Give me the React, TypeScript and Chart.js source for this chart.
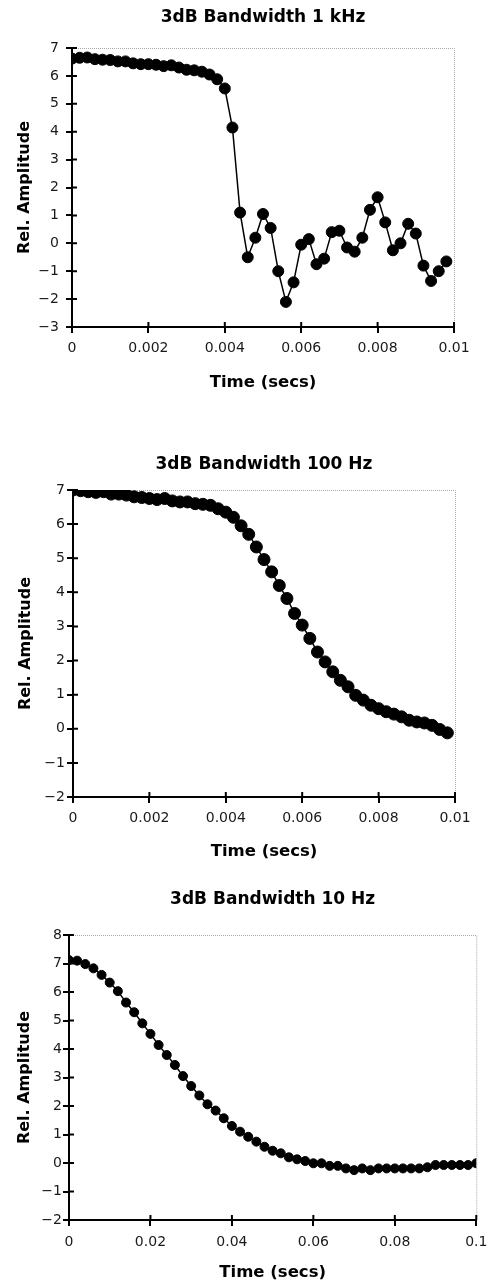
import React, { useEffect, useRef } from 'react';
import { Chart, registerables } from 'chart.js';

Chart.register(...registerables);

const FONT = "'DejaVu Sans', Verdana, sans-serif";

// ---------- Data ----------
const time1 = [0, 0.0002, 0.0004, 0.0006, 0.0008, 0.001, 0.0012, 0.0014, 0.0016, 0.0018,
  0.002, 0.0022, 0.0024, 0.0026, 0.0028, 0.003, 0.0032, 0.0034, 0.0036, 0.0038,
  0.004, 0.0042, 0.0044, 0.0046, 0.0048, 0.005, 0.0052, 0.0054, 0.0056, 0.0058,
  0.006, 0.0062, 0.0064, 0.0066, 0.0068, 0.007, 0.0072, 0.0074, 0.0076, 0.0078,
  0.008, 0.0082, 0.0084, 0.0086, 0.0088, 0.009, 0.0092, 0.0094, 0.0096, 0.0098];
const amp1 = [6.62, 6.65, 6.66, 6.6, 6.58, 6.57, 6.52, 6.52, 6.45, 6.42,
  6.42, 6.4, 6.35, 6.38, 6.3, 6.22, 6.2, 6.15, 6.05, 5.88,
  5.55, 4.15, 1.1, -0.5, 0.2, 1.05, 0.55, -1.0, -2.1, -1.4,
  -0.05, 0.15, -0.75, -0.55, 0.4, 0.45, -0.15, -0.3, 0.2, 1.2,
  1.65, 0.75, -0.25, 0.0, 0.7, 0.35, -0.8, -1.35, -1.0, -0.65];

const time2 = [0, 0.0002, 0.0004, 0.0006, 0.0008, 0.001, 0.0012, 0.0014, 0.0016, 0.0018,
  0.002, 0.0022, 0.0024, 0.0026, 0.0028, 0.003, 0.0032, 0.0034, 0.0036, 0.0038,
  0.004, 0.0042, 0.0044, 0.0046, 0.0048, 0.005, 0.0052, 0.0054, 0.0056, 0.0058,
  0.006, 0.0062, 0.0064, 0.0066, 0.0068, 0.007, 0.0072, 0.0074, 0.0076, 0.0078,
  0.008, 0.0082, 0.0084, 0.0086, 0.0088, 0.009, 0.0092, 0.0094, 0.0096, 0.0098];
const amp2 = [7.0, 6.98, 6.95, 6.93, 6.95, 6.88, 6.88, 6.85, 6.8, 6.78,
  6.75, 6.72, 6.75, 6.68, 6.65, 6.65, 6.6, 6.58, 6.55, 6.45,
  6.35, 6.2, 5.95, 5.7, 5.33, 4.96, 4.6, 4.2, 3.82, 3.38,
  3.04, 2.65, 2.25, 1.96, 1.67, 1.42, 1.23, 0.98, 0.84, 0.69,
  0.59, 0.5, 0.43, 0.35, 0.25, 0.2, 0.17, 0.1, -0.02, -0.12];

const time3 = [0, 0.002, 0.004, 0.006, 0.008, 0.01, 0.012, 0.014, 0.016, 0.018,
  0.02, 0.022, 0.024, 0.026, 0.028, 0.03, 0.032, 0.034, 0.036, 0.038,
  0.04, 0.042, 0.044, 0.046, 0.048, 0.05, 0.052, 0.054, 0.056, 0.058,
  0.06, 0.062, 0.064, 0.066, 0.068, 0.07, 0.072, 0.074, 0.076, 0.078,
  0.08, 0.082, 0.084, 0.086, 0.088, 0.09, 0.092, 0.094, 0.096, 0.098, 0.1];
const amp3 = [7.12, 7.1, 6.98, 6.83, 6.6, 6.33, 6.03, 5.63, 5.29, 4.9,
  4.53, 4.14, 3.79, 3.44, 3.05, 2.7, 2.37, 2.06, 1.84, 1.57,
  1.3, 1.1, 0.92, 0.75, 0.57, 0.43, 0.34, 0.2, 0.13, 0.07,
  -0.01, -0.01, -0.1, -0.1, -0.19, -0.25, -0.19, -0.25, -0.19, -0.19,
  -0.19, -0.19, -0.19, -0.19, -0.15, -0.07, -0.07, -0.07, -0.07, -0.07, -0.01];

const xTickLabelsMs = ['0', '0.002', '0.004', '0.006', '0.008', '0.01'];
const xTickLabels10 = ['0', '0.02', '0.04', '0.06', '0.08', '0.1'];

const titles = ['3dB Bandwidth 1 kHz', '3dB Bandwidth 100 Hz', '3dB Bandwidth 10 Hz'];
const xTitle = 'Time (secs)';
const yTitle = 'Rel. Amplitude';

// ---------- Plugin: dotted frame + inner tick marks ----------
const framePlugin = {
  id: 'framePlugin',
  beforeDatasetsDraw(chart: any) {
    const { ctx, chartArea: a, scales } = chart;
    ctx.save();
    ctx.strokeStyle = '#a8a8a8';
    ctx.lineWidth = 1;
    ctx.setLineDash([1, 1]);
    ctx.beginPath();
    ctx.moveTo(a.left, a.top + 0.5);
    ctx.lineTo(a.right + 0.5, a.top + 0.5);
    ctx.lineTo(a.right + 0.5, a.bottom);
    ctx.stroke();
    ctx.setLineDash([]);
    ctx.strokeStyle = '#000';
    ctx.lineWidth = 2;
    ctx.beginPath();
    for (const t of scales.x.ticks) {
      const px = scales.x.getPixelForValue(t.value);
      ctx.moveTo(px, a.bottom);
      ctx.lineTo(px, a.bottom - 5);
    }
    for (const t of scales.y.ticks) {
      const py = scales.y.getPixelForValue(t.value);
      ctx.moveTo(a.left, py);
      ctx.lineTo(a.left + 5, py);
    }
    ctx.stroke();
    ctx.restore();
  },
};

type Spec = {
  top: number; height: number; title: string;
  times: number[]; values: number[];
  xMax: number; xStep: number; xLabels: string[];
  yMin: number; yMax: number;
  radius: number;
  padLeft: number; padRight: number;
  titlePadTop: number; titlePadBottom: number;
  xH: number; xTitlePadBottom: number; xTickPad: number;
  yW: number; yTickPad: number;
};

const specs: Spec[] = [
  {
    top: 0, height: 400, title: titles[0], times: time1, values: amp1,
    xMax: 0.01, xStep: 0.002, xLabels: xTickLabelsMs, yMin: -3, yMax: 7, radius: 5.5,
    padLeft: 11, padRight: 41, titlePadTop: 7.8, titlePadBottom: 19.8,
    xH: 73, xTitlePadBottom: 7.1, xTickPad: 6.6, yW: 61, yTickPad: 7,
  },
  {
    top: 420, height: 445, title: titles[1], times: time2, values: amp2,
    xMax: 0.01, xStep: 0.002, xLabels: xTickLabelsMs, yMin: -2, yMax: 7, radius: 6,
    padLeft: 12, padRight: 40, titlePadTop: 34.8, titlePadBottom: 14.8,
    xH: 68, xTitlePadBottom: 3.1, xTickPad: 6.9, yW: 61, yTickPad: 2,
  },
  {
    top: 860, height: 425, title: titles[2], times: time3, values: amp3,
    xMax: 0.1, xStep: 0.02, xLabels: xTickLabels10, yMin: -2, yMax: 8, radius: 4.5,
    padLeft: 11, padRight: 17, titlePadTop: 29.8, titlePadBottom: 24.8,
    xH: 65, xTitlePadBottom: 2.1, xTickPad: 7.6, yW: 58, yTickPad: 1,
  },
];

function makeConfig(s: Spec): any {
  return {
    type: 'line',
    data: {
      datasets: [{
        data: s.times.map((t, i) => ({ x: t, y: s.values[i] })),
        borderColor: '#000',
        borderWidth: 1.5,
        pointRadius: s.radius,
        pointBackgroundColor: '#000',
        pointBorderColor: '#000',
        pointBorderWidth: 1,
        tension: 0,
        fill: false,
      }],
    },
    options: {
      animation: false,
      responsive: false,
      maintainAspectRatio: false,
      layout: { padding: { left: s.padLeft, right: s.padRight, top: 0, bottom: 0 } },
      plugins: {
        legend: { display: false },
        tooltip: { enabled: false },
        title: {
          display: true,
          text: s.title,
          fullSize: false,
          color: '#000',
          font: { family: FONT, size: 17, weight: 'bold', lineHeight: 1.2 },
          padding: { top: s.titlePadTop, bottom: s.titlePadBottom },
        },
      },
      scales: {
        x: {
          type: 'linear',
          min: 0,
          max: s.xMax,
          afterFit: (sc: any) => { sc.height = s.xH; },
          ticks: {
            stepSize: s.xStep,
            autoSkip: false,
            maxRotation: 0,
            padding: s.xTickPad,
            color: '#1a1a1a',
            font: { family: FONT, size: 14, lineHeight: 1.2 },
            callback: (v: number, i: number) => s.xLabels[i],
          },
          grid: { drawOnChartArea: false, tickLength: 6, color: '#000', lineWidth: 2 },
          border: { display: true, color: '#000', width: 2 },
          title: {
            display: true, text: xTitle, color: '#000',
            font: { family: FONT, size: 16.5, weight: 'bold', lineHeight: 1.2 },
            padding: { top: 0, bottom: s.xTitlePadBottom },
          },
        },
        y: {
          type: 'linear',
          min: s.yMin,
          max: s.yMax,
          afterFit: (sc: any) => { sc.width = s.yW; },
          ticks: {
            stepSize: 1,
            padding: s.yTickPad,
            color: '#1a1a1a',
            font: { family: FONT, size: 14, lineHeight: 1.2 },
            callback: (v: number) => String(v).replace('-', '\u2212'),
          },
          grid: { drawOnChartArea: false, tickLength: 6, color: '#000', lineWidth: 2 },
          border: { display: true, color: '#000', width: 2 },
          title: {
            display: true, text: yTitle, color: '#000',
            font: { family: FONT, size: 16, weight: 'bold', lineHeight: 1.2 },
            padding: { top: 4, bottom: 0 },
          },
        },
      },
    },
    plugins: [framePlugin],
  };
}

function Panel({ spec }: { spec: Spec }) {
  const ref = useRef<HTMLCanvasElement | null>(null);
  useEffect(() => {
    if (!ref.current) return;
    const chart = new Chart(ref.current, makeConfig(spec));
    return () => chart.destroy();
  }, [spec]);
  return (
    <canvas
      ref={ref}
      width={495}
      height={spec.height}
      style={{ position: 'absolute', left: 0, top: spec.top, width: 495, height: spec.height }}
    />
  );
}

export default function App() {
  return (
    <div style={{ position: 'absolute', left: 0, top: 0, width: 495, height: 1285, background: '#fff', overflow: 'hidden' }}>
      {specs.map((s, i) => <Panel key={i} spec={s} />)}
    </div>
  );
}
